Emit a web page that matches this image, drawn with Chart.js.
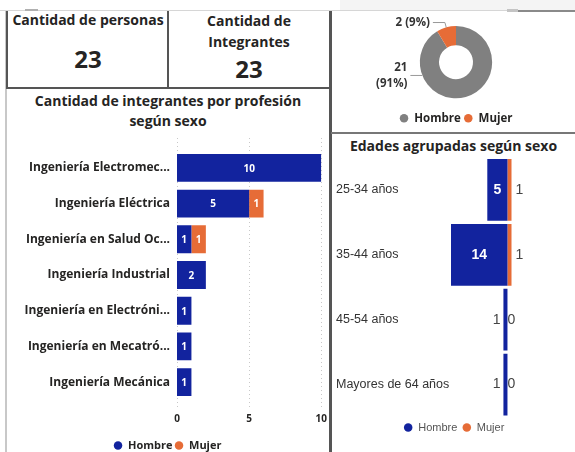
<!DOCTYPE html>
<html>
<head>
<meta charset="utf-8">
<script src="https://cdn.jsdelivr.net/npm/chart.js@4"></script>
<style>
  body { margin: 0; background: #fff; font-family: "Open Sans", sans-serif; color: #252423; }
  #tablero { position: relative; width: 575px; height: 452px; overflow: hidden; }
  .abs { position: absolute; }
  .titulo { font-weight: 700; font-size: 14px; text-align: center; line-height: 20px; }
  .tarjeta { font-weight: 700; text-align: center; }
  canvas { position: absolute; }
</style>
</head>
<body>
<div id="tablero">
  <!-- franja superior y bordes -->
  <div class="abs" style="left:340px;top:0;width:235px;height:10px;background:#f4f4f4;"></div>
  <div class="abs" style="left:0;top:10px;width:575px;height:1px;background:#d6d6d6;"></div>
  <div class="abs" style="left:518px;top:10px;width:57px;height:2px;background:#8a8a8a;"></div>
  <div class="abs" style="left:507px;top:9px;width:11px;height:3px;background:#c4c4c4;"></div>
  <div class="abs" style="left:25px;top:9px;width:13px;height:2px;background:#b0b0b0;"></div>
  <div class="abs" style="left:5px;top:11px;width:2px;height:441px;background:#c8c8c8;"></div>
  <div class="abs" style="left:6px;top:11px;width:2px;height:77px;background:#555;"></div>
  <div class="abs" style="left:167px;top:11px;width:2px;height:77px;background:#555;"></div>
  <div class="abs" style="left:6px;top:87px;width:324px;height:2px;background:#555;"></div>
  <div class="abs" style="left:329px;top:11px;width:3px;height:441px;background:#555;"></div>
  <div class="abs" style="left:331px;top:132px;width:244px;height:2px;background:#777;"></div>

  <!-- tarjetas -->
  <div class="abs tarjeta" style="left:8px;top:10px;width:160px;font-size:14px;">Cantidad de personas</div>
  <div class="abs tarjeta" id="valorPersonas" style="left:8px;top:42px;width:160px;font-size:24px;"></div>
  <div class="abs tarjeta" style="left:169px;top:10px;width:160px;font-size:14px;line-height:21px;">Cantidad de<br>Integrantes</div>
  <div class="abs tarjeta" id="valorIntegrantes" style="left:169px;top:52px;width:160px;font-size:24px;"></div>

  <!-- títulos -->
  <div class="abs titulo" style="left:7px;top:91px;width:322px;">Cantidad de integrantes por profesión<br>según sexo</div>
  <div class="abs titulo" style="left:332px;top:136px;width:243px;">Edades agrupadas según sexo</div>

  <canvas id="graficoProfesion" width="333" height="326" style="left:7px;top:135px;"></canvas>
  <canvas id="graficoDona" width="241" height="122" style="left:334px;top:12px;"></canvas>
  <canvas id="graficoEdades" width="241" height="293" style="left:334px;top:150px;"></canvas>
</div>

<script>
// Datos del tablero
const cantidadPersonas = 23;
const cantidadIntegrantes = 23;

const sexos = ['Hombre', 'Mujer'];
const totalesSexo = [21, 2];

const profesiones = [
  'Ingeniería Electromec...',
  'Ingeniería Eléctrica',
  'Ingeniería en Salud Oc...',
  'Ingeniería Industrial',
  'Ingeniería en Electróni...',
  'Ingeniería en Mecatró...',
  'Ingeniería Mecánica'
];
const hombresProfesion = [10, 5, 1, 2, 1, 1, 1];
const mujeresProfesion = [0, 1, 1, 0, 0, 0, 0];
const ticksProfesion = [0, 5, 10];

const gruposEdad = ['25-34 años', '35-44 años', '45-54 años', 'Mayores de 64 años'];
const hombresEdad = [5, 14, 1, 1];
const mujeresEdad = [1, 1, 0, 0];

const azul = '#12239e';
const naranja = '#e66c37';
const gris = '#808080';
const textoOscuro = '#252423';

document.getElementById('valorPersonas').textContent = cantidadPersonas;
document.getElementById('valorIntegrantes').textContent = cantidadIntegrantes;

// leyenda inferior con puntos pequeños
function leyenda(fuente, color, relleno, espacioArriba) {
  return {
    position: 'bottom',
    title: { display: espacioArriba > 0, text: ' ', font: { size: 1 }, padding: { top: espacioArriba, bottom: 0 } },
    labels: { usePointStyle: true, pointStyle: 'circle', boxWidth: 9, boxHeight: 6, padding: relleno, color: color, font: fuente }
  };
}

// Líneas punteadas de la cuadrícula, un poco más largas que el área (como en Power BI)
const cuadriculaPunteada = {
  id: 'cuadriculaPunteada',
  beforeDatasetsDraw(chart) {
    const ctx = chart.ctx;
    const area = chart.chartArea;
    const escala = chart.scales.x;
    ctx.save();
    ctx.strokeStyle = '#c8c8c8';
    ctx.lineWidth = 1;
    ctx.setLineDash([1, 3]);
    escala.ticks.forEach(t => {
      const x = Math.round(escala.getPixelForValue(t.value)) + 0.5;
      ctx.beginPath();
      ctx.moveTo(x, area.top - 12);
      ctx.lineTo(x, area.bottom + 7);
      ctx.stroke();
    });
    ctx.restore();
  }
};

// Etiquetas dentro de las barras de profesión
const etiquetasProfesion = {
  id: 'etiquetasProfesion',
  afterDatasetsDraw(chart) {
    const ctx = chart.ctx;
    chart.data.datasets.forEach((ds, i) => {
      chart.getDatasetMeta(i).data.forEach((barra, j) => {
        const v = ds.data[j];
        if (!v) return;
        const p = barra.getProps(['x', 'y', 'base'], true);
        ctx.save();
        ctx.fillStyle = '#fff';
        ctx.font = 'bold 10px "Open Sans"';
        ctx.textAlign = 'center';
        ctx.textBaseline = 'middle';
        ctx.fillText(v, (p.x + p.base) / 2, p.y + 1);
        ctx.restore();
      });
    });
  }
};

new Chart(document.getElementById('graficoProfesion'), {
  type: 'bar',
  data: {
    labels: profesiones,
    datasets: [
      { label: 'Hombre', data: hombresProfesion, backgroundColor: azul, barPercentage: 0.78, categoryPercentage: 1 },
      { label: 'Mujer', data: mujeresProfesion, backgroundColor: naranja, barPercentage: 0.78, categoryPercentage: 1 }
    ]
  },
  options: {
    indexAxis: 'y',
    responsive: false,
    animation: false,
    layout: { padding: { top: 15, right: 12, bottom: 0 } },
    scales: {
      x: {
        stacked: true,
        min: 0,
        max: 10,
        afterBuildTicks: (escala) => { escala.ticks = ticksProfesion.map(v => ({ value: v })); },
        grid: { display: false, drawTicks: false },
        border: { display: false },
        ticks: { padding: 13, color: textoOscuro, font: { family: 'Open Sans', size: 10, weight: 'bold' } }
      },
      y: {
        stacked: true,
        grid: { display: false, drawTicks: false },
        border: { display: false },
        afterFit: (escala) => { escala.width = 170; },
        ticks: { padding: 7, color: textoOscuro, font: { family: 'Open Sans', size: 12, weight: 'bold' } }
      }
    },
    plugins: {
      legend: leyenda({ family: 'Open Sans', size: 11, weight: 'bold' }, textoOscuro, 2, 0),
      tooltip: { enabled: false }
    }
  },
  plugins: [cuadriculaPunteada, etiquetasProfesion]
});

// Etiquetas con línea guía para la dona
const etiquetasDona = {
  id: 'etiquetasDona',
  afterDatasetsDraw(chart) {
    const ctx = chart.ctx;
    const datos = chart.data.datasets[0].data;
    const total = datos.reduce((a, b) => a + b, 0);
    chart.getDatasetMeta(0).data.forEach((arco, i) => {
      const p = arco.getProps(['x', 'y', 'startAngle', 'endAngle', 'outerRadius'], true);
      const barrido = p.endAngle - p.startAngle;
      // la porción grande lleva su etiqueta al lado izquierdo
      const angulo = barrido > Math.PI ? Math.PI * 0.88 : (p.startAngle + p.endAngle) / 2;
      const ax = p.x + Math.cos(angulo) * p.outerRadius;
      const ay = p.y + Math.sin(angulo) * p.outerRadius;
      const codo = barrido > Math.PI ? 0 : 5;
      const ex = ax + Math.cos(angulo) * codo;
      const ey = ay + Math.sin(angulo) * codo;
      const fx = ex - 12;
      ctx.save();
      ctx.strokeStyle = '#999';
      ctx.lineWidth = 1;
      ctx.beginPath();
      ctx.moveTo(ax, ay);
      ctx.lineTo(ex, ey);
      ctx.lineTo(fx, ey);
      ctx.stroke();
      ctx.fillStyle = '#333';
      ctx.font = 'bold 11.5px "Open Sans"';
      ctx.textAlign = 'right';
      ctx.textBaseline = 'middle';
      const pct = Math.round(datos[i] / total * 100);
      const texto = datos[i] + ' (' + pct + '%)';
      if (ctx.measureText(texto).width > 42) {
        ctx.fillText(String(datos[i]), fx - 3, ey - 8);
        ctx.fillText('(' + pct + '%)', fx - 3, ey + 8);
      } else {
        ctx.fillText(texto, fx - 3, ey);
      }
      ctx.restore();
    });
  }
};

new Chart(document.getElementById('graficoDona'), {
  type: 'doughnut',
  data: {
    labels: sexos,
    datasets: [{ data: totalesSexo, backgroundColor: [gris, naranja], borderWidth: 0 }]
  },
  options: {
    responsive: false,
    animation: false,
    cutout: '47%',
    layout: { padding: { top: 14, left: 3, bottom: 0 } },
    plugins: {
      legend: leyenda({ family: 'Open Sans', size: 11.5, weight: 'bold' }, textoOscuro, 3, 10),
      tooltip: { enabled: false }
    }
  },
  plugins: [etiquetasDona]
});

// Pirámide de edades: hombres hacia la izquierda, mujeres a la derecha
const etiquetasEdades = {
  id: 'etiquetasEdades',
  afterDatasetsDraw(chart) {
    const ctx = chart.ctx;
    chart.data.datasets.forEach((ds, i) => {
      chart.getDatasetMeta(i).data.forEach((barra, j) => {
        const v = Math.abs(ds.data[j]);
        const p = barra.getProps(['x', 'y', 'base'], true);
        const ancho = Math.abs(p.x - p.base);
        ctx.save();
        ctx.textBaseline = 'middle';
        ctx.font = '14px "Liberation Sans"';
        const tw = ctx.measureText(String(v)).width;
        if (i === 0 && ancho > tw + 8) {
          ctx.font = 'bold 14px "Liberation Sans"';
          ctx.fillStyle = '#fff';
          ctx.textAlign = 'center';
          ctx.fillText(v, (p.x + p.base) / 2, p.y);
        } else if (i === 0) {
          ctx.fillStyle = '#444';
          ctx.textAlign = 'right';
          ctx.fillText(v, Math.min(p.x, p.base) - 3, p.y);
        } else {
          ctx.fillStyle = '#444';
          ctx.textAlign = 'left';
          ctx.fillText(v, Math.max(p.x, p.base) + 4, p.y);
        }
        ctx.restore();
      });
    });
  }
};

new Chart(document.getElementById('graficoEdades'), {
  type: 'bar',
  data: {
    labels: gruposEdad,
    datasets: [
      { label: 'Hombre', data: hombresEdad.map(v => -v), backgroundColor: azul, barPercentage: 0.95, categoryPercentage: 1 },
      { label: 'Mujer', data: mujeresEdad, backgroundColor: naranja, barPercentage: 0.95, categoryPercentage: 1 }
    ]
  },
  options: {
    indexAxis: 'y',
    responsive: false,
    animation: false,
    layout: { padding: { top: 7, left: 2, right: 3 } },
    scales: {
      x: { stacked: true, min: -14, max: 16, display: false },
      y: {
        stacked: true,
        grid: { display: false, drawTicks: false },
        border: { display: false },
        afterFit: (escala) => { escala.width = 115; },
        ticks: { padding: 0, crossAlign: 'far', color: '#333', font: { family: 'Liberation Sans', size: 12.5 } }
      }
    },
    plugins: {
      legend: leyenda({ family: 'Liberation Sans', size: 11 }, '#555', 5, 0),
      tooltip: { enabled: false }
    }
  },
  plugins: [etiquetasEdades]
});
</script>
</body>
</html>
